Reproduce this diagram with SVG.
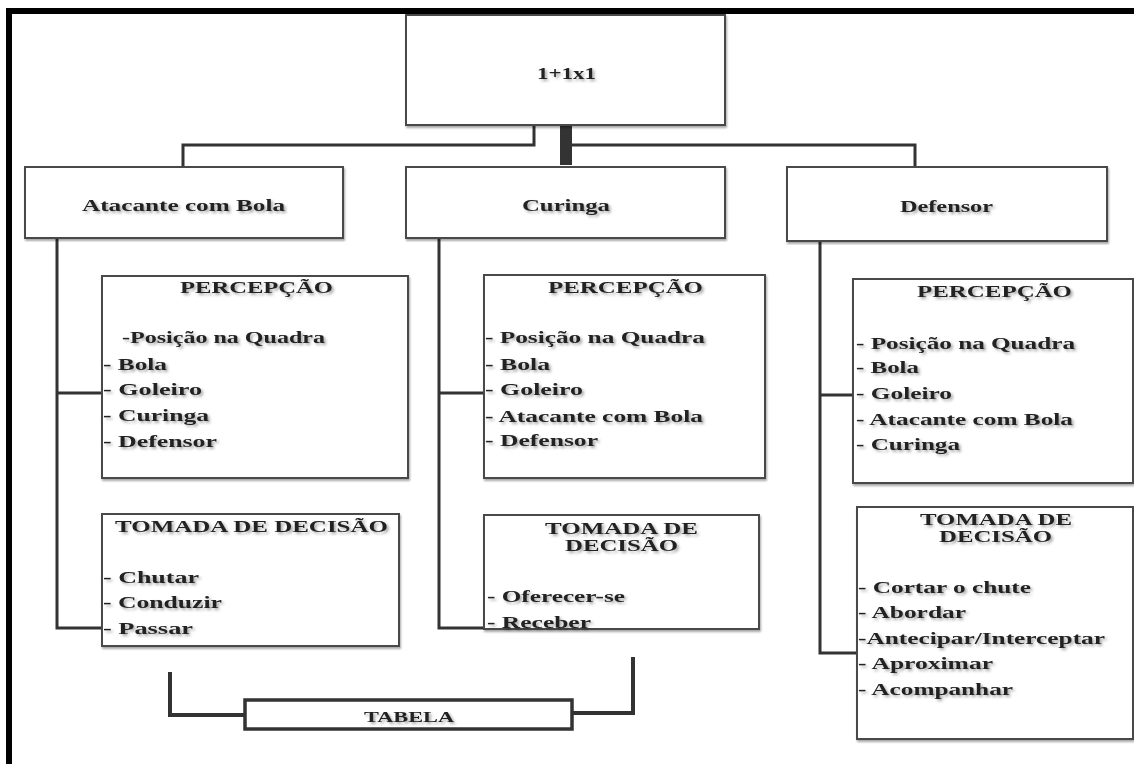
<svg xmlns="http://www.w3.org/2000/svg" width="1134" height="764" viewBox="0 0 1134 764">
<defs>
<filter id="ts" x="-10%" y="-40%" width="120%" height="180%">
<feGaussianBlur in="SourceAlpha" stdDeviation="1.5" result="b"/>
<feOffset in="b" dx="1.5" dy="2" result="o"/>
<feComponentTransfer in="o" result="s"><feFuncA type="linear" slope="0.35"/></feComponentTransfer>
<feMerge><feMergeNode in="s"/><feMergeNode in="SourceGraphic"/></feMerge>
</filter>
<filter id="bs" x="-5%" y="-5%" width="110%" height="110%">
<feGaussianBlur in="SourceAlpha" stdDeviation="1.2" result="b"/>
<feOffset in="b" dx="1" dy="1.5" result="o"/>
<feComponentTransfer in="o" result="s"><feFuncA type="linear" slope="0.35"/></feComponentTransfer>
<feMerge><feMergeNode in="s"/><feMergeNode in="SourceGraphic"/></feMerge>
</filter>
</defs>
<style>
.box{fill:#fff;stroke:#4a4a4a;stroke-width:2;filter:url(#bs)}
.t{font-family:"Liberation Serif","Times New Roman",serif;font-weight:bold;font-size:17px;fill:#222;filter:url(#ts)}
.ln{fill:none;stroke:#333;stroke-width:3;stroke-linejoin:miter}
.br{fill:none;stroke:#333;stroke-width:4;stroke-linejoin:miter}
</style>
<rect width="1134" height="764" fill="#fff"/>
<g id="frame">
<path d="M9,764 V11 H1134" fill="none" stroke="#000" stroke-width="6"/>
</g>
<g id="connectors">
<path class="ln" d="M534,125 V145 H183 V167"/>
<path class="ln" d="M572,145 H915 V167"/>
<rect x="560" y="125" width="12" height="40" fill="#333"/>
<path class="ln" d="M57,238 V628 H102"/>
<path class="ln" d="M57,393 H102"/>
<path class="ln" d="M439,238 V628 H484"/>
<path class="ln" d="M439,393 H484"/>
<path class="ln" d="M820,241 V653 H857"/>
<path class="ln" d="M820,395 H853"/>
<path class="br" d="M170,672 V715 H245"/>
<path class="br" d="M572,713 H633 V657"/>
</g>
<g id="root">
<rect class="box" x="406" y="15" width="319" height="110"/>
<text class="t" x="537" y="79" textLength="59" lengthAdjust="spacingAndGlyphs">1+1x1</text>
</g>
<g id="atacante">
<rect class="box" x="25" y="167" width="318" height="71"/>
<text class="t" x="82" y="211" textLength="203" lengthAdjust="spacingAndGlyphs">Atacante com Bola</text>
</g>
<g id="curinga">
<rect class="box" x="406" y="167" width="319" height="71"/>
<text class="t" x="522" y="211" textLength="88" lengthAdjust="spacingAndGlyphs">Curinga</text>
</g>
<g id="defensor">
<rect class="box" x="787" y="167" width="320" height="74"/>
<text class="t" x="900" y="212" textLength="93" lengthAdjust="spacingAndGlyphs">Defensor</text>
</g>
<g id="atacante-percepcao">
<rect class="box" x="102" y="276" width="306" height="202"/>
<text class="t" x="180" y="293" textLength="153" lengthAdjust="spacingAndGlyphs">PERCEPÇÃO</text>
<text class="t" x="122" y="343" textLength="203" lengthAdjust="spacingAndGlyphs">-Posição na Quadra</text>
<text class="t" x="103" y="370" textLength="64" lengthAdjust="spacingAndGlyphs">- Bola</text>
<text class="t" x="103" y="395" textLength="99" lengthAdjust="spacingAndGlyphs">- Goleiro</text>
<text class="t" x="103" y="421" textLength="106" lengthAdjust="spacingAndGlyphs">- Curinga</text>
<text class="t" x="103" y="447" textLength="114" lengthAdjust="spacingAndGlyphs">- Defensor</text>
</g>
<g id="atacante-decisao">
<rect class="box" x="102" y="514" width="297" height="132"/>
<text class="t" x="115" y="532" textLength="273" lengthAdjust="spacingAndGlyphs">TOMADA DE DECISÃO</text>
<text class="t" x="103" y="583" textLength="96" lengthAdjust="spacingAndGlyphs">- Chutar</text>
<text class="t" x="103" y="608" textLength="119" lengthAdjust="spacingAndGlyphs">- Conduzir</text>
<text class="t" x="103" y="634" textLength="90" lengthAdjust="spacingAndGlyphs">- Passar</text>
</g>
<g id="curinga-percepcao">
<rect class="box" x="484" y="275" width="281" height="203"/>
<text class="t" x="548" y="293" textLength="155" lengthAdjust="spacingAndGlyphs">PERCEPÇÃO</text>
<text class="t" x="485" y="343" textLength="220" lengthAdjust="spacingAndGlyphs">- Posição na Quadra</text>
<text class="t" x="485" y="370" textLength="65" lengthAdjust="spacingAndGlyphs">- Bola</text>
<text class="t" x="485" y="395" textLength="98" lengthAdjust="spacingAndGlyphs">- Goleiro</text>
<text class="t" x="485" y="422" textLength="218" lengthAdjust="spacingAndGlyphs">- Atacante com Bola</text>
<text class="t" x="485" y="446" textLength="113" lengthAdjust="spacingAndGlyphs">- Defensor</text>
</g>
<g id="curinga-decisao">
<rect class="box" x="484" y="515" width="275" height="114"/>
<text class="t" x="545" y="534" textLength="153" lengthAdjust="spacingAndGlyphs">TOMADA DE</text>
<text class="t" x="565" y="551" textLength="113" lengthAdjust="spacingAndGlyphs">DECISÃO</text>
<text class="t" x="487" y="602" textLength="138" lengthAdjust="spacingAndGlyphs">- Oferecer-se</text>
<text class="t" x="487" y="628" textLength="104" lengthAdjust="spacingAndGlyphs">- Receber</text>
</g>
<g id="defensor-percepcao">
<rect class="box" x="853" y="279" width="280" height="204"/>
<text class="t" x="917" y="297" textLength="155" lengthAdjust="spacingAndGlyphs">PERCEPÇÃO</text>
<text class="t" x="856" y="349" textLength="219" lengthAdjust="spacingAndGlyphs">- Posição na Quadra</text>
<text class="t" x="856" y="373" textLength="63" lengthAdjust="spacingAndGlyphs">- Bola</text>
<text class="t" x="856" y="399" textLength="96" lengthAdjust="spacingAndGlyphs">- Goleiro</text>
<text class="t" x="856" y="425" textLength="217" lengthAdjust="spacingAndGlyphs">- Atacante com Bola</text>
<text class="t" x="856" y="450" textLength="104" lengthAdjust="spacingAndGlyphs">- Curinga</text>
</g>
<g id="defensor-decisao">
<rect class="box" x="857" y="507" width="276" height="232"/>
<text class="t" x="920" y="525" textLength="152" lengthAdjust="spacingAndGlyphs">TOMADA DE</text>
<text class="t" x="939" y="542" textLength="113" lengthAdjust="spacingAndGlyphs">DECISÃO</text>
<text class="t" x="858" y="593" textLength="173" lengthAdjust="spacingAndGlyphs">- Cortar o chute</text>
<text class="t" x="858" y="618" textLength="108" lengthAdjust="spacingAndGlyphs">- Abordar</text>
<text class="t" x="858" y="644" textLength="247" lengthAdjust="spacingAndGlyphs">-Antecipar/Interceptar</text>
<text class="t" x="858" y="669" textLength="135" lengthAdjust="spacingAndGlyphs">- Aproximar</text>
<text class="t" x="858" y="695" textLength="155" lengthAdjust="spacingAndGlyphs">- Acompanhar</text>
</g>
<g id="tabela">
<rect x="245" y="700" width="327" height="29" fill="#fff" stroke="#333" stroke-width="3.5"/>
<text class="t" x="364" y="722" style="font-size:14px" textLength="90" lengthAdjust="spacingAndGlyphs">TABELA</text>
</g>
</svg>
